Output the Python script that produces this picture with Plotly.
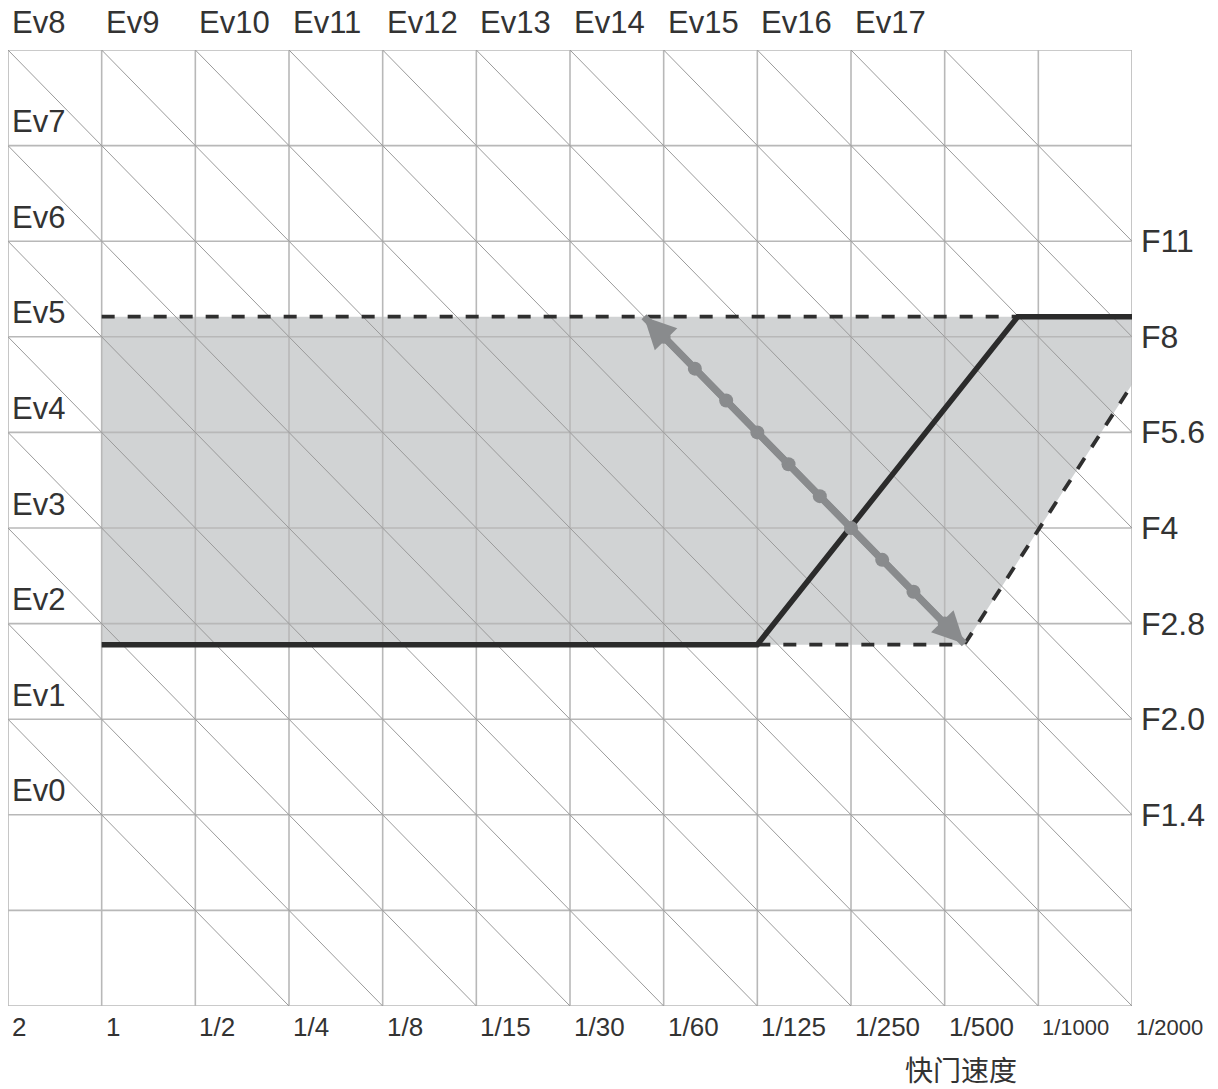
import plotly.graph_objects as go

# --- axis labels
shutter_labels = ["2", "1", "1/2", "1/4", "1/8", "1/15", "1/30", "1/60",
                  "1/125", "1/250", "1/500", "1/1000", "1/2000"]
shutter_pos = list(range(13))
ev_top = ["Ev8", "Ev9", "Ev10", "Ev11", "Ev12", "Ev13", "Ev14", "Ev15", "Ev16", "Ev17"]
ev_top_pos = list(range(10))
ev_left = ["Ev7", "Ev6", "Ev5", "Ev4", "Ev3", "Ev2", "Ev1", "Ev0"]
ev_left_pos = [9, 8, 7, 6, 5, 4, 3, 2]
f_labels = ["F11", "F8", "F5.6", "F4", "F2.8", "F2.0", "F1.4"]
f_pos = [8, 7, 6, 5, 4, 3, 2]
col_lines = list(range(13))
row_lines = list(range(11))
ev_diagonals = list(range(3, 21))   # lines x + y = c

# --- exposure range (shaded area)
range_x = [1, 12, 12, 10.21, 1]
range_y = [7.21, 7.21, 6.5, 3.78, 3.78]
dash_top_x = [1, 10.78]
dash_top_y = [7.21, 7.21]
dash_low_x = [8.0, 10.21, 12]
dash_low_y = [3.78, 3.78, 6.5]

# --- program line
prog_x = [1, 8.0, 10.78, 12]
prog_y = [3.78, 3.78, 7.21, 7.21]

# --- program shift arrow (equal exposure line)
shift_x = [7, 7.333, 7.667, 8, 8.333, 8.667, 9, 9.333, 9.667, 10]
shift_y = [7, 6.667, 6.333, 6, 5.667, 5.333, 5, 4.667, 4.333, 4]
arrow_start = (6.79, 7.21)
arrow_end = (10.21, 3.79)

FONT = "Liberation Sans, Arial, sans-serif"
TXT = "#333333"
XMAX, YMAX = 12, 10

fig = go.Figure()

# shaded range
fig.add_trace(go.Scatter(
	x=range_x, y=range_y, mode="lines", fill="toself",
	fillcolor="#d1d3d4", line=dict(width=0),
	hoverinfo="skip", showlegend=False,
))

# grid
gx, gy = [], []
for c in col_lines:
	gx += [c, c, None]
	gy += [0, YMAX, None]
for r in row_lines:
	gx += [0, XMAX, None]
	gy += [r, r, None]
fig.add_trace(go.Scatter(
	x=gx, y=gy, mode="lines", line=dict(color="#b8b8b8", width=1.6),
	hoverinfo="skip", showlegend=False, cliponaxis=False,
))

# EV diagonals
dx, dy = [], []
for c in ev_diagonals:
	x0 = max(0, c - YMAX)
	x1 = min(XMAX, c)
	dx += [x0, x1, None]
	dy += [c - x0, c - x1, None]
fig.add_trace(go.Scatter(
	x=dx, y=dy, mode="lines", line=dict(color="#9a9a9a", width=1),
	hoverinfo="skip", showlegend=False,
))

# dashed range borders
for xs, ys in [(dash_top_x, dash_top_y), (dash_low_x, dash_low_y)]:
	fig.add_trace(go.Scatter(
		x=xs, y=ys, mode="lines",
		line=dict(color="#2f2f2f", width=3.8, dash="13px,13px"),
		hoverinfo="skip", showlegend=False, cliponaxis=False,
	))

# program line
fig.add_trace(go.Scatter(
	x=prog_x, y=prog_y, mode="lines",
	line=dict(color="#2b2b2b", width=5.5),
	hoverinfo="skip", showlegend=False, cliponaxis=False,
))

# shift line with dots
fig.add_trace(go.Scatter(
	x=[arrow_start[0]] + shift_x + [arrow_end[0]],
	y=[arrow_start[1]] + shift_y + [arrow_end[1]],
	mode="lines", line=dict(color="#898b8d", width=7),
	hoverinfo="skip", showlegend=False,
))
fig.add_trace(go.Scatter(
	x=shift_x, y=shift_y, mode="markers",
	marker=dict(color="#898b8d", size=14),
	hoverinfo="skip", showlegend=False,
))

# arrow heads
mid = (shift_x[4], shift_y[4])
for tip in (arrow_start, arrow_end):
	fig.add_annotation(
		x=tip[0], y=tip[1], ax=mid[0], ay=mid[1],
		xref="x", yref="y", axref="x", ayref="y",
		text="", showarrow=True, arrowhead=2, arrowsize=0.9,
		arrowwidth=7, arrowcolor="#898b8d", standoff=0,
	)

# labels
for x, t in zip(ev_top_pos, ev_top):
	fig.add_annotation(x=x, y=YMAX, text=t, showarrow=False, xanchor="left",
		yanchor="middle", xshift=2, yshift=28, font=dict(size=31, color=TXT, family=FONT))
for y, t in zip(ev_left_pos, ev_left):
	fig.add_annotation(x=0, y=y, text=t, showarrow=False, xanchor="left",
		yanchor="middle", xshift=2, yshift=24, font=dict(size=31, color=TXT, family=FONT))
for y, t in zip(f_pos, f_labels):
	fig.add_annotation(x=XMAX, y=y, text=t, showarrow=False, xanchor="left",
		yanchor="middle", xshift=7, yshift=0, font=dict(size=32, color=TXT, family=FONT))
for x, t in zip(shutter_pos, shutter_labels):
	small = len(t) > 5
	fig.add_annotation(x=x, y=0, text=t, showarrow=False, xanchor="left",
		yanchor="middle", xshift=2, yshift=-21,
		font=dict(size=22 if small else 26, color=TXT, family=FONT))
fig.add_annotation(x=10.17, y=0, text="快门速度", showarrow=False, xanchor="center",
	yanchor="middle", yshift=-63,
	font=dict(size=28, color=TXT, family="Noto Sans CJK SC"))

fig.update_layout(
	width=1218, height=1089, autosize=False,
	margin=dict(l=8, r=86, t=50, b=83),
	plot_bgcolor="white", paper_bgcolor="white",
)
fig.update_xaxes(range=[0, XMAX], visible=False)
fig.update_yaxes(range=[0, YMAX], visible=False)

# drop the default page margin so the figure fills the window
fig.write_html("out.html", config={"displayModeBar": False},
	post_script="document.body.style.margin='0';")
